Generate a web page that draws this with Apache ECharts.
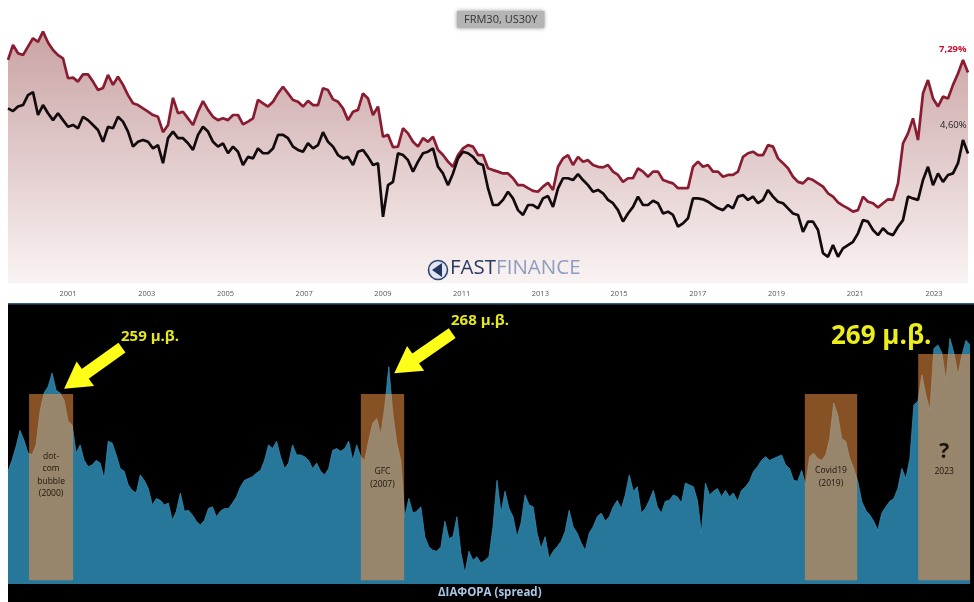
<!DOCTYPE html>
<html>
<head>
<meta charset="utf-8">
<style>html,body{margin:0;padding:0;background:#fff}#c{width:974px;height:602px}#c canvas{filter:blur(0.45px)}</style>
<script src="https://cdn.jsdelivr.net/npm/echarts@6/dist/echarts.min.js"></script>
</head>
<body>
<div id="c"></div>
<script>
const frm30 = [7.71,8.21,7.93,7.87,8.15,8.43,8.31,8.65,8.29,8.04,7.87,7.76,7.10,7.12,6.99,7.23,7.23,6.99,6.71,6.78,7.21,6.88,7.15,6.88,6.54,6.27,6.21,6.10,5.99,5.88,5.82,5.31,5.55,6.45,5.94,5.99,5.77,5.55,5.99,6.34,6.05,5.82,5.71,5.77,5.71,5.88,5.88,5.57,5.66,
5.77,6.38,6.27,6.16,6.32,6.60,6.82,6.60,6.38,6.32,6.16,6.35,6.21,6.21,6.77,6.71,6.40,6.32,6.10,5.71,5.99,6.05,6.60,6.43,5.88,6.16,5.16,5.22,4.81,4.83,5.44,5.27,4.99,4.83,5.11,4.99,5.16,4.72,4.55,4.33,4.16,4.55,4.77,4.88,4.83,4.55,4.55,4.11,
4.05,4.00,3.94,3.94,3.78,3.55,3.55,3.45,3.36,3.33,3.50,3.63,3.39,4.16,4.44,4.55,4.22,4.49,4.33,4.38,4.22,4.16,4.14,4.22,4.00,3.89,3.66,3.78,3.78,4.11,4.00,3.83,4.00,4.00,3.72,3.66,3.61,3.45,3.45,3.45,4.16,4.33,4.16,4.22,4.00,4.00,3.83,3.89,
3.89,4.00,4.49,4.61,4.66,4.55,4.55,4.88,4.83,4.44,4.28,4.11,3.83,3.66,3.61,3.78,3.72,3.61,3.50,3.28,3.17,2.98,2.87,2.78,2.67,2.72,3.17,3.00,2.95,2.81,2.95,3.08,3.06,3.61,4.94,5.27,5.77,5.05,6.60,7.04,6.43,6.16,6.49,6.43,6.88,7.26,7.71,7.29];
const us30y = [6.10,6.01,6.16,6.21,6.54,6.64,5.88,6.21,5.94,5.71,5.94,5.71,5.49,5.55,5.44,5.82,5.71,5.55,5.38,4.99,5.49,5.44,5.82,5.66,5.33,4.83,4.99,5.05,4.99,4.77,4.88,4.28,5.11,5.33,5.11,5.11,4.94,4.72,5.22,5.49,5.33,4.99,4.83,4.94,4.61,4.83,4.66,4.22,4.49,
4.44,4.77,4.61,4.61,4.77,5.22,5.22,5.11,4.83,4.72,4.66,4.94,4.77,4.88,5.31,4.99,4.83,4.55,4.44,4.49,4.22,4.66,4.72,4.49,4.22,4.28,2.50,3.55,3.66,4.61,4.55,4.38,4.00,4.33,4.61,4.66,4.77,4.16,3.94,3.55,3.94,4.44,4.66,4.61,4.49,4.28,4.22,3.45,
2.89,2.89,3.06,3.33,3.11,2.72,2.56,2.89,2.89,2.78,3.11,3.19,2.83,3.44,3.78,3.78,3.72,3.92,3.72,3.55,3.33,3.39,3.28,3.06,2.95,2.72,2.34,2.61,2.83,3.17,2.89,2.89,3.03,2.95,2.61,2.67,2.56,2.17,2.28,2.45,3.11,3.11,3.08,3.00,2.89,2.78,2.72,2.89,
2.78,3.17,3.22,3.06,3.17,2.95,3.06,3.39,3.17,3.00,2.95,2.78,2.61,2.56,2.00,2.34,2.34,2.06,1.29,1.17,1.56,1.17,1.45,1.56,1.67,1.95,2.39,2.34,2.06,1.89,2.12,1.95,1.89,2.17,2.39,3.17,3.11,3.06,3.72,4.16,3.55,3.94,3.66,3.89,3.94,4.28,5.05,4.60];
const spreadBps = [151,163,178,196,185,171,169,180,217,237,244,259,240,237,229,206,202,171,180,163,156,158,163,160,143,184,182,169,154,151,136,130,127,147,141,132,114,121,119,114,116,97,107,127,107,108,103,96,92,97,110,112,101,107,110,110,116,123,134,141,143,
145,149,152,163,180,176,184,167,154,160,180,169,169,167,163,154,160,151,147,154,174,176,173,176,184,163,180,167,163,185,204,209,191,222,266,215,182,163,101,121,105,107,112,79,68,64,63,68,96,77,79,101,61,39,63,53,57,50,53,57,
90,141,105,129,110,101,79,94,125,114,112,83,66,79,55,63,68,74,85,108,90,83,72,64,83,90,101,105,96,101,112,119,110,125,147,129,134,105,110,119,130,112,105,118,119,125,123,116,138,136,134,119,83,138,125,129,132,123,130,123,
127,118,130,134,140,151,156,163,167,163,165,167,169,158,154,141,140,152,136,167,171,165,163,169,187,226,213,187,184,165,154,140,118,108,103,96,86,105,112,118,121,132,154,143,165,224,228,257,235,218,286,290,281,251,297,281,257,279,295,290];
const yearTicks = [2001,2003,2005,2007,2009,2011,2013,2015,2017,2019,2021,2023];
const boxLabels = ['dot-\ncom\nbubble\n(2000)','GFC\n(2007)','Covid19\n(2019)','?','2023'];
const boxStarts = [2000.01,2008.44,2019.72,2022.60];
const boxEnds = [2001.13,2009.54,2021.05,2023.92];
const boxTops = [236,236,236,280];
const boxBottom = 31;
const peakLabels = ['259 μ.β.','268 μ.β.','269 μ.β.'];
const endLabels = ['7,29%','4,60%'];

const xStart = 1999.475, xEnd = 2023.865, xEndSpread = 2023.916, xEndPanel = 2024.018;
const ratePairs = a => a.map((v,i)=>[xStart + i*(xEnd-xStart)/192, v]);
const spreadPairs = spreadBps.map((v,i)=>[xStart + i*(xEndSpread-xStart)/240, v]);
const FONT = '"Open Sans","Noto Sans",sans-serif';

function box(i, labelCfg){
  return [{xAxis:boxStarts[i], yAxis:boxBottom, label:labelCfg},{xAxis:boxEnds[i], yAxis:boxTops[i]}];
}
const boxText = {show:true, color:'#1c140c', fontFamily:FONT, fontSize:8.5, lineHeight:12.5, align:'center', verticalAlign:'middle'};

const option = {
  animation:false,
  backgroundColor:'#ffffff',
  title:{text:'FRM30, US30Y', left:457, top:11, padding:[3,7,3,7], backgroundColor:'#b4b4b4', shadowColor:'rgba(0,0,0,.45)', shadowBlur:4, textStyle:{fontFamily:FONT, fontSize:11, fontWeight:'normal', color:'#333'}},
  grid:[
    {left:8, width:960, top:0, height:283},
    {left:8, width:966, top:303, height:299, show:true, backgroundColor:'#000', borderWidth:0}
  ],
  xAxis:[
    {type:'value', gridIndex:0, min:xStart, max:xEnd, splitLine:{show:false}, axisLine:{show:false}, axisTick:{show:false},
     axisLabel:{customValues:yearTicks, formatter:v=>String(Math.round(v)), color:'#555', fontSize:7.5, fontFamily:FONT, margin:7}},
    {type:'value', gridIndex:1, min:xStart, max:xEndPanel, show:false, splitLine:{show:false}}
  ],
  yAxis:[
    {type:'value', gridIndex:0, min:0.3, max:9.7, show:false, splitLine:{show:false}},
    {type:'value', gridIndex:1, min:7.2, max:336.1, show:false, splitLine:{show:false}}
  ],
  series:[
    {type:'line', name:'FRM30', xAxisIndex:0, yAxisIndex:0, data:ratePairs(frm30), symbol:'none', z:3,
     lineStyle:{color:'#8a1c32', width:2.7},
     areaStyle:{opacity:1, color:new echarts.graphic.LinearGradient(0,30,0,283,[{offset:0,color:'#c9a2a3'},{offset:1,color:'#faf3f3'}],true)}},
    {type:'line', name:'US30Y', xAxisIndex:0, yAxisIndex:0, data:ratePairs(us30y), symbol:'none', z:4,
     lineStyle:{color:'#120a0c', width:2.7}},
    {type:'line', name:'spread', xAxisIndex:1, yAxisIndex:1, data:spreadPairs, symbol:'none', z:3,
     lineStyle:{color:'#338bb0', width:0.8},
     areaStyle:{opacity:1, color:'#27779b', origin:27},
     markArea:{silent:true, z:6, itemStyle:{color:'rgba(245,148,70,0.55)'}, data:[
       box(0,Object.assign({},boxText,{formatter:boxLabels[0], position:['50%','43.5%']})),
       box(1,Object.assign({},boxText,{formatter:boxLabels[1], position:['50%','45%']})),
       box(2,Object.assign({},boxText,{formatter:boxLabels[2], position:['50%','44.5%']})),
       box(3,{show:true, position:['50%','46%'], align:'center', verticalAlign:'middle', fontFamily:FONT,
              formatter:'{q|'+boxLabels[3]+'}\n{y|'+boxLabels[4]+'}',
              rich:{q:{fontSize:21, fontWeight:'bold', color:'#1c140c', lineHeight:27, align:'center'}, y:{fontSize:8.5, color:'#1c140c', lineHeight:12, align:'center'}}})
     ]},
     markLine:{silent:true, z:8, animation:false, symbol:['none','triangle'], symbolSize:[30,26], label:{show:false},
       lineStyle:{color:'#ffff19', width:12, type:'solid', opacity:1}, itemStyle:{color:'#ffff19'}, emphasis:{disabled:true},
       data:[
         [{coord:[2002.37,287]},{coord:[2001.17,250]}],
         [{coord:[2010.76,303]},{coord:[2009.56,267]}]
       ]}
    }
  ],
  graphic:[
    {type:'rect', shape:{x:8,y:303,width:966,height:1.5}, style:{fill:'#2f5f7c'}, z:20},
    {type:'text', left:121, top:329, style:{text:peakLabels[0], fill:'#e6e81e', font:'bold 15px '+FONT}, z:20},
    {type:'text', left:451, top:313, style:{text:peakLabels[1], fill:'#e6e81e', font:'bold 15px '+FONT}, z:20},
    {type:'text', left:831, top:324, style:{text:peakLabels[2], fill:'#ecee1c', font:'bold 26px '+FONT}, z:20},
    {type:'text', left:939, top:44, style:{text:endLabels[0], fill:'#c8102e', font:'bold 9.5px '+FONT}, z:20},
    {type:'text', left:940, top:120, style:{text:endLabels[1], fill:'#222', font:'9.5px '+FONT}, z:20},
    {type:'text', left:438, top:587, style:{text:'ΔΙΑΦΟΡΑ (spread)', fill:'#a9c6e4', font:'bold 11.5px '+FONT}, z:20},
    {type:'circle', shape:{cx:438,cy:270,r:9.5}, style:{fill:'#dfe6f2', stroke:'#33456e', lineWidth:1.6}, z:20},
    {type:'polygon', shape:{points:[[432,270],[442,263],[442,277]]}, style:{fill:'#233560'}, z:21},
    {type:'text', left:450, top:258, z:20, style:{rich:{a:{fill:'#2b3a63', font:'20.5px '+FONT},b:{fill:'#8d9dc0', font:'20.5px '+FONT}}, text:'{a|FAST}{b|FINANCE}'}}
  ]
};
echarts.init(document.getElementById('c'),null,{renderer:'canvas'}).setOption(option);
</script>
</body>
</html>
